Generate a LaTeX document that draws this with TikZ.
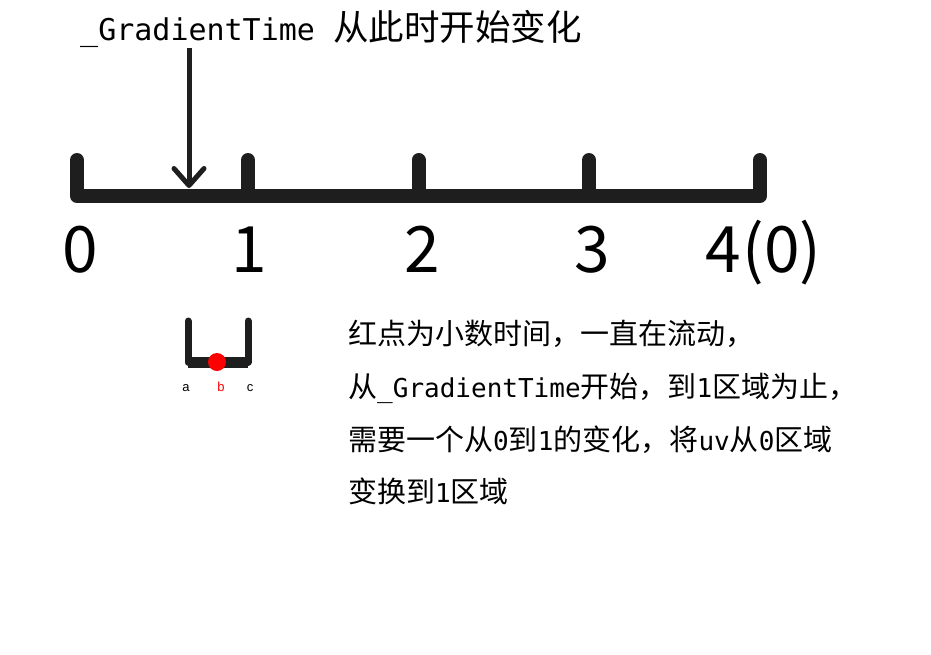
\documentclass[tikz,border=0pt]{standalone}
\usepackage{fontspec}
\newfontfamily\cjkf{Noto Sans CJK SC}
\newfontfamily\monof{DejaVu Sans Mono}
\newfontfamily\arialf{Liberation Sans}
\usetikzlibrary{arrows.meta}
\newcommand\Lp[1]{{\monof\fontsize{26}{26}\selectfont #1}}
\newcommand\Lt[1]{{\monof\fontsize{30}{30}\selectfont #1}}
\definecolor{ink}{RGB}{30,30,30}
\tikzset{
  bar/.style={line width=14pt, line cap=round, line join=round, draw=ink},
  ubar/.style={line width=7pt, line cap=round, line join=round, draw=ink},
  digit/.style={inner sep=0pt, anchor=base, font=\cjkf\fontsize{64}{64}\selectfont},
  para/.style={inner sep=0pt, anchor=base west, font=\cjkf\fontsize{29}{29}\selectfont},
  lbl/.style={inner sep=0pt, anchor=base, font=\arialf\fontsize{13}{13}\selectfont},
}
\begin{document}
\begin{tikzpicture}[x=1pt,y=-1pt]
\useasboundingbox (0,0) rectangle (931,654);
\fill[white] (0,0) rectangle (931,654);

% title
\node[inner sep=0pt, anchor=base west, font=\cjkf\fontsize{35.5}{36}\selectfont] (title) at (80,40) {\Lt{\_GradientTime }从此时开始变化};

% timeline
\draw[bar] (77,160) -- (77,196) -- (760,196) -- (760,160);
\foreach \x in {248,418.5,589}{
  \draw[bar] (\x,160) -- (\x,196);
}

% arrow
\coordinate (astart) at (189,48);
\coordinate (tip) at (189,188);
\draw[line width=5pt, draw=ink, -{Straight Barb[length=17pt,width=30pt,line cap=round,line join=round]}] (astart) -- (tip);

% digits
\node[digit] (d0) at (80,272) {0};
\node[digit] (d1) at (249,272) {1};
\node[digit] (d2) at (422,272) {2};
\node[digit] (d3) at (592,272) {3};
\node[digit, anchor=base west] (d4) at (705,272) {4\kern2pt(0)};

% small U
\draw[ubar] (188,321) -- (188,362) -- (248,362) -- (248,321);
\draw[line width=11pt, draw=ink] (188,362) -- (248,362);
\fill[red] (217,362) circle (9);
\node[lbl] (la) at (186,391) {a};
\node[lbl, text=red] (lb) at (221,391) {b};
\node[lbl] (lc) at (250,391) {c};

% paragraph
\node[para] (p1) at (348,344) {红点为小数时间，一直在流动，};
\node[para] (p2) at (348,397) {从\Lp{\_GradientTime}开始，到\Lp{1}区域为止，};
\node[para] (p3) at (348,450) {需要一个从\Lp{0}到\Lp{1}的变化，将\Lp{uv}从\Lp{0}区域};
\node[para] (p4) at (348,502) {变换到\Lp{1}区域};
\end{tikzpicture}
\end{document}
